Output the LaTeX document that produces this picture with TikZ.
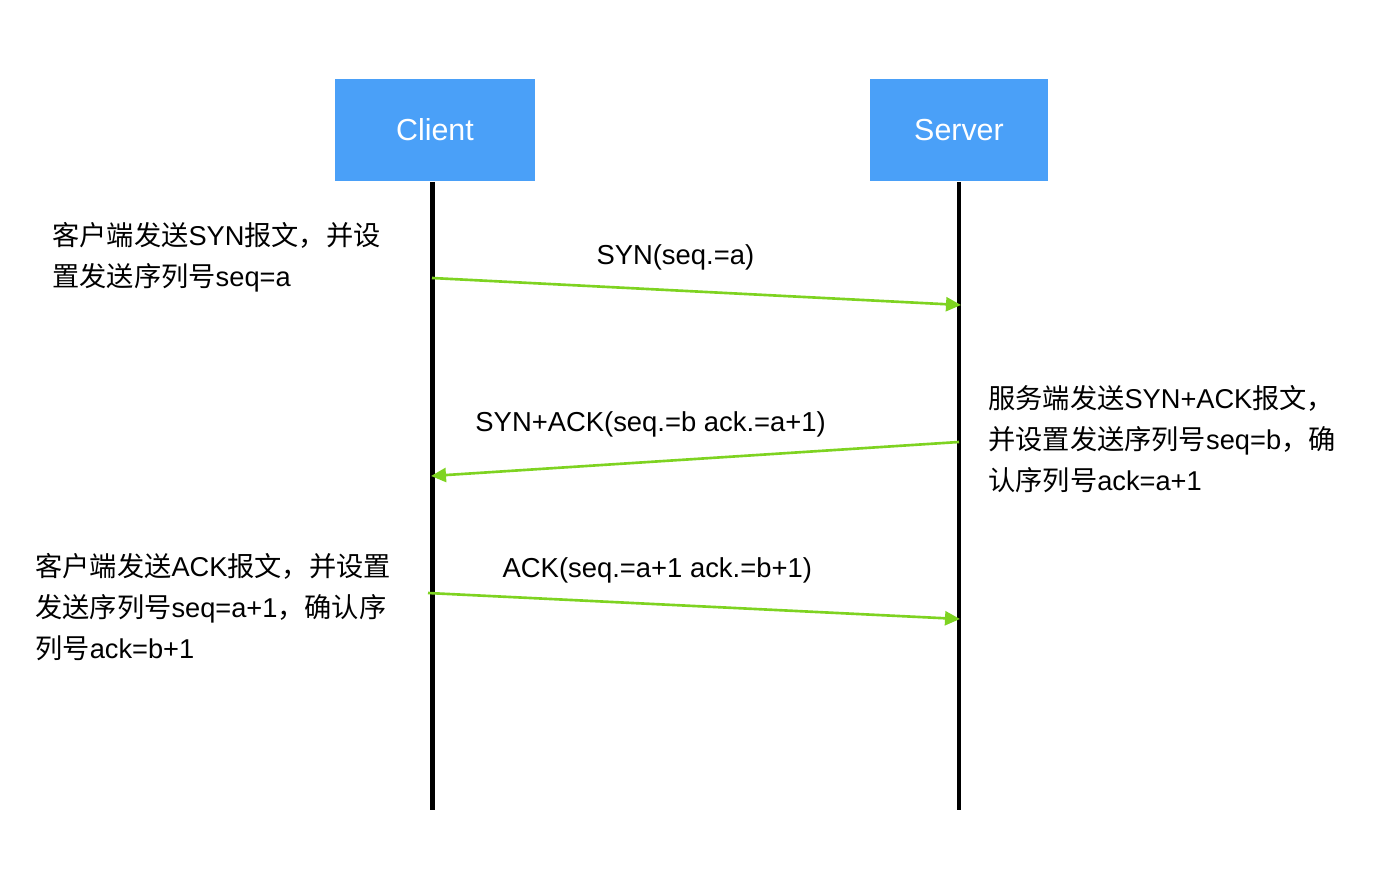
\documentclass[tikz,border=0pt]{standalone}
\usepackage{fontspec}
\setmainfont{Liberation Sans}
\newfontfamily\cjk{Noto Sans CJK SC}
\usetikzlibrary{arrows.meta,positioning}
\definecolor{boxblue}{RGB}{74,160,248}
\definecolor{msggreen}{RGB}{126,211,33}
\newcommand{\zh}[1]{{\cjk #1}}
\tikzset{
    actor/.style =    {rectangle,
                      fill=boxblue,
                      draw=none,
                      text=white,
                      font=\fontsize{17.3}{20}\selectfont,
                      minimum height=2.06cm,
                      inner sep=0pt},
    lifeline/.style = {draw=black,
                      line width=0.09cm},
    signal/.style =   {draw=msggreen,
                      line width=1.5pt,
                      -{Triangle[length=0.3cm,width=0.28cm]}},
    msg/.style =      {text=black,
                      font=\fontsize{15.6}{18}\selectfont,
                      inner sep=0pt},
    note/.style =     {anchor=west,
                      align=left,
                      text=black,
                      font=\fontsize{15.5}{23.3}\selectfont,
                      inner sep=0pt}
}
\begin{document}
\begin{tikzpicture}[x=0.02cm,y=-0.02cm]
                    \useasboundingbox (0,0) rectangle (1376,892);
                    \node[actor,minimum width=4cm]     (client) at (435,130)  {Client};
                    \node[actor,minimum width=3.56cm]  (server) at (959,130)  {Server};
                    \coordinate (cEnd) at (432.5,810);
                    \coordinate (sEnd) at (959,810);
                    \draw[lifeline] (client.south -| cEnd) -- (cEnd);
                    \draw[lifeline] (server.south) -- (sEnd);

                    \coordinate (c1) at (432,278);
                    \coordinate (s1) at (961,305);
                    \coordinate (s2) at (959,442);
                    \coordinate (c2) at (431,476);
                    \coordinate (c3) at (428,593);
                    \coordinate (s3) at (960,619);

                    \path   (c1) edge [signal]  node [msg,pos=.46,yshift=.66cm] {SYN(seq.=a)} (s1)
                            (s2) edge [signal]  node [msg,pos=.584,yshift=.75cm] {SYN+ACK(seq.=b ack.=a+1)} (c2)
                            (c3) edge [signal]  node [msg,pos=.431,yshift=.67cm] {ACK(seq.=a+1 ack.=b+1)} (s3);

                    \node[note]  (cnote1) at (52,257)   {\zh{客户端发送}SYN\zh{报文，并设}\\\zh{置发送序列号}seq=a};
                    \node[note]  (snote)  at (988,439.5) {\zh{服务端发送}SYN+ACK\zh{报文，}\\\zh{并设置发送序列号}seq=b\zh{，确}\\\zh{认序列号}ack=a+1};
                    \node[note]  (cnote2) at (35,607)   {\zh{客户端发送}ACK\zh{报文，并设置}\\\zh{发送序列号}seq=a+1\zh{，确认序}\\\zh{列号}ack=b+1};
\end{tikzpicture}
\end{document}
